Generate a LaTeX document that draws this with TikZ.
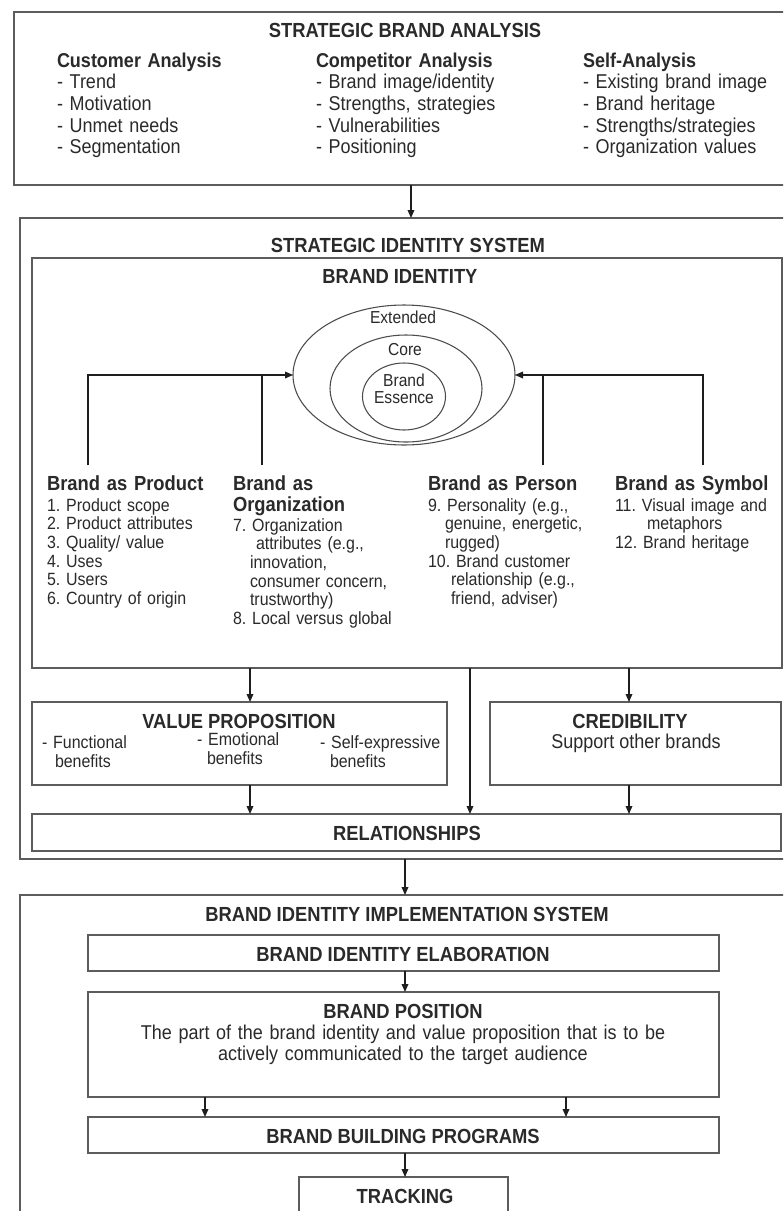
\documentclass[tikz,border=0pt]{standalone}
\usepackage{fontspec}
\setmainfont{Liberation Sans}[FakeStretch=0.9]
\usetikzlibrary{arrows.meta,shapes.geometric,fit,calc}
\definecolor{txt}{HTML}{2A2A2A}
\definecolor{frame}{HTML}{5C5C5C}
\definecolor{wire}{HTML}{1E1E1E}
\newcommand{\hdfont}{\fontsize{15.3pt}{16.3pt}\selectfont\bfseries}
\newcommand{\topfont}{\fontsize{15pt}{16.3pt}\selectfont}
\newcommand{\smfont}{\fontsize{13.3pt}{14pt}\selectfont}
\newcommand{\vpfont}{\fontsize{13.3pt}{14.6pt}\selectfont}
\newcommand{\elfont}{\fontsize{13pt}{13pt}\selectfont}
\frenchspacing
\begin{document}
\begin{tikzpicture}[x=0.75pt,y=-0.75pt,
  every node/.style={text=txt, inner sep=0pt, outer sep=0pt},
  box/.style={draw=frame, line width=1.1pt, rectangle, inner sep=0pt},
  ell/.style={draw=black!70, line width=0.8pt, ellipse, inner sep=0pt},
  col/.style={anchor=base west, align=left, text width=#1},
  col/.default=160pt,
  ttl/.style={anchor=base, font=\hdfont},
  conn/.style={draw=wire, line width=0.9pt},
  arr/.style={conn, -{Triangle[length=6pt,width=5pt]}}]
\useasboundingbox (0,0) rectangle (783,1211);
\clip (0,0) rectangle (783,1211);
\fill[white] (0,0) rectangle (783,1211);

% ---------- boxes
\node[box, fit={(14,12) (796,185)}] (sba) {};
\node[box, fit={(20,218) (796,859)}] (sis) {};
\node[box, fit={(32,258) (782,668)}] (bi) {};
\node[box, fit={(32,702) (447,785)}] (vp) {};
\node[box, fit={(490,702) (781,785)}] (cred) {};
\node[box, fit={(32,814) (781,851)}] (rel) {};
\node[box, fit={(20,895) (796,1240)}] (biis) {};
\node[box, fit={(88,935) (719,971)}] (bie) {};
\node[box, fit={(88,992) (719,1097)}] (bp) {};
\node[box, fit={(88,1117) (719,1153)}] (bbp) {};
\node[box, fit={(299,1177) (508,1240)}] (trk) {};

% ---------- strategic brand analysis
\node[ttl] (tsba) at (405,37) {STRATEGIC BRAND ANALYSIS};
\node[col, font=\topfont] (cust) at (57,67) {\textbf{Customer Analysis}\\- Trend\\- Motivation\\- Unmet needs\\- Segmentation};
\node[col, font=\topfont] (comp) at (316,67) {\textbf{Competitor Analysis}\\- Brand image/identity\\- Strengths, strategies\\- Vulnerabilities\\- Positioning};
\node[col, font=\topfont] (self) at (583,67) {\textbf{Self-Analysis}\\- Existing brand image\\- Brand heritage\\- Strengths/strategies\\- Organization values};

% ---------- strategic identity system
\node[ttl] (tsis) at (408,252) {STRATEGIC IDENTITY SYSTEM};
\node[ttl] (tbi) at (400,283) {BRAND IDENTITY};

\node[ell, minimum width=166.5pt, minimum height=105pt] (outer) at (404,375) {};
\node[ell, minimum width=114pt, minimum height=80.25pt] (core) at (406,388.5) {};
\node[ell, minimum width=62.25pt, minimum height=50.25pt] (ess) at (404,396.5) {};
\node[font=\elfont] (lext) at (403,317) {Extended};
\node[font=\elfont] (lcore) at (405,350) {Core};
\node[font=\elfont, align=center] (less) at (404,388.5) {Brand\\Essence};

\node[col, font=\hdfont] (prodh) at (47,490) {Brand as Product};
\node[col, font=\hdfont] (orgh) at (233,490) {Brand as\\Organization};
\node[col, font=\hdfont] (persh) at (428,490) {Brand as Person};
\node[col, font=\hdfont] (symbh) at (615,490) {Brand as Symbol};

\node[col=140pt, font=\smfont] (prod) at (47,511) {1. Product scope\\2. Product attributes\\3. Quality/ value\\4. Uses\\5. Users\\6. Country of origin};
\node[col=140pt, font=\smfont] (org) at (233,531) {7. Organization\\\hspace*{17.25pt}attributes (e.g.,\\\hspace*{12.75pt}innovation,\\\hspace*{12.75pt}consumer concern,\\\hspace*{12.75pt}trustworthy)\\8. Local versus global};
\node[col=140pt, font=\smfont] (pers) at (428,511) {9. Personality (e.g.,\\\hspace*{12.75pt}genuine, energetic,\\\hspace*{12.75pt}rugged)\\10. Brand customer\\\hspace*{17.25pt}relationship (e.g.,\\\hspace*{17.25pt}friend, adviser)};
\node[col=140pt, font=\smfont] (symb) at (615,511) {11. Visual image and\\\hspace*{24pt}metaphors\\12. Brand heritage};

\coordinate (pl) at (88,465);
\coordinate (ol) at (262,465);
\coordinate (perl) at (543,465);
\coordinate (syl) at (703,465);
\draw[arr] (pl) |- (outer.west);
\draw[conn] (ol) -- (ol |- outer.west);
\draw[arr] (syl) |- (outer.east);
\draw[conn] (perl) -- (perl |- outer.east);

% ---------- value proposition / credibility / relationships
\node[ttl] (tvp) at (239,728) {VALUE PROPOSITION};
\node[col=90pt, font=\vpfont] (vf) at (42,748) {- Functional\\\hspace*{9.75pt}benefits};
\node[col=90pt, font=\vpfont] (ve) at (197,745) {- Emotional\\\hspace*{7.5pt}benefits};
\node[col=100pt, font=\vpfont] (vs) at (320,748) {- Self-expressive\\\hspace*{7.5pt}benefits};
\node[ttl] (tcred) at (630,728) {CREDIBILITY};
\node[anchor=base, font=\topfont] (tsup) at (636,748) {Support other brands};
\node[ttl] (trel) at (407,840) {RELATIONSHIPS};

\coordinate (xa) at (250,0);
\coordinate (xb) at (470,0);
\coordinate (xc) at (629,0);
\coordinate (xm) at (405,0);
\coordinate (xt) at (411,0);
\coordinate (xl) at (205,0);
\coordinate (xr) at (566,0);

\draw[arr] (sba.south -| xt) -- (sis.north -| xt);
\draw[arr] (bi.south -| xa) -- (vp.north -| xa);
\draw[arr] (bi.south -| xb) -- (rel.north -| xb);
\draw[arr] (bi.south -| xc) -- (cred.north -| xc);
\draw[arr] (vp.south -| xa) -- (rel.north -| xa);
\draw[arr] (cred.south -| xc) -- (rel.north -| xc);
\draw[arr] (sis.south -| xm) -- (biis.north -| xm);

% ---------- implementation system
\node[ttl] (tbiis) at (407,921) {BRAND IDENTITY IMPLEMENTATION SYSTEM};
\node[ttl] (tbie) at (403,961) {BRAND IDENTITY ELABORATION};
\node[ttl] (tbp) at (403,1018) {BRAND POSITION};
\node[anchor=base, font=\fontsize{15pt}{15.75pt}\selectfont, align=center, text width=420pt] (tbpd) at (403,1039) {The part of the brand identity and value proposition that is to be\\actively communicated to the target audience};
\node[ttl] (tbbp) at (403,1143) {BRAND BUILDING PROGRAMS};
\node[ttl] (ttrk) at (405,1203) {TRACKING};

\draw[arr] (bie.south -| xm) -- (bp.north -| xm);
\draw[arr] (bp.south -| xl) -- (bbp.north -| xl);
\draw[arr] (bp.south -| xr) -- (bbp.north -| xr);
\draw[arr] (bbp.south -| xm) -- (trk.north -| xm);
\end{tikzpicture}
\end{document}
